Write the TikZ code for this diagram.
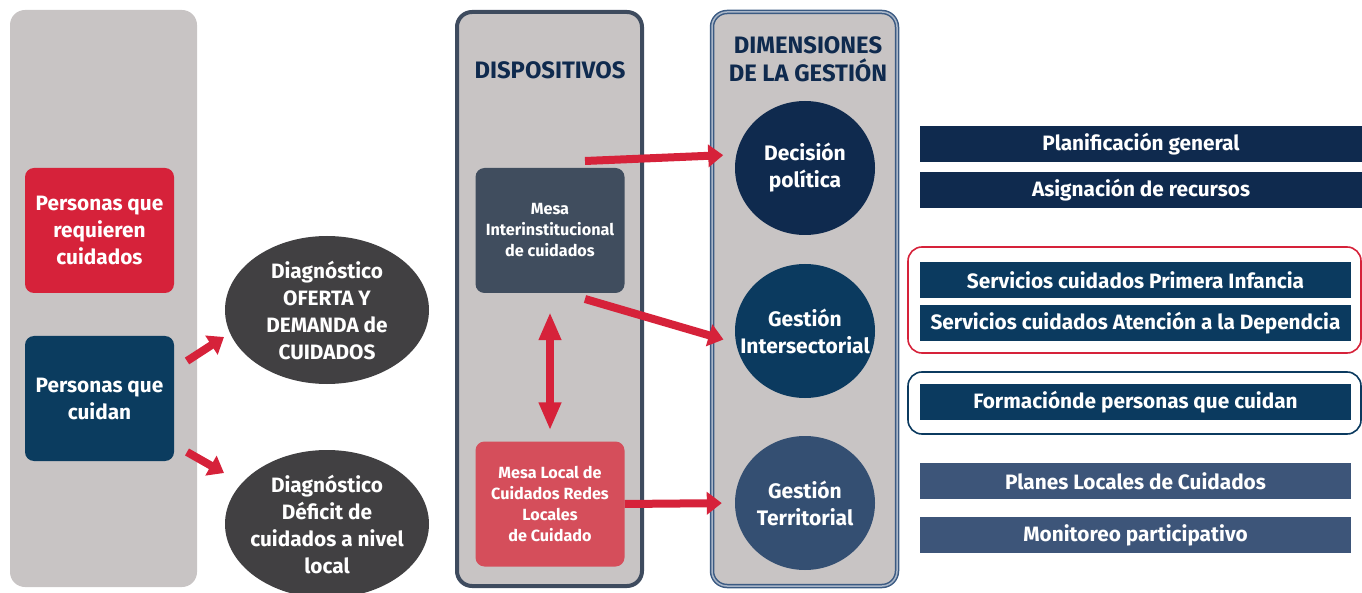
\documentclass[tikz,border=0pt]{standalone}
\usepackage{fontspec}
\setmainfont{Fira Sans}
\usetikzlibrary{arrows.meta,positioning,shapes.geometric}

\definecolor{panelgray}{HTML}{C8C4C4}
\definecolor{carered}{HTML}{D6223A}
\definecolor{carenavy}{HTML}{0B3C5F}
\definecolor{diaggray}{HTML}{414042}
\definecolor{midborder}{HTML}{3E4B5E}
\definecolor{mesagray}{HTML}{404D5E}
\definecolor{mesared}{HTML}{D54E5B}
\definecolor{dimborder}{HTML}{3B5A82}
\definecolor{dimline}{HTML}{A9B6C8}
\definecolor{darknavy}{HTML}{0F2A4E}
\definecolor{midnavy}{HTML}{0B3A5F}
\definecolor{slateblue}{HTML}{3D5579}
\definecolor{terrblue}{HTML}{344F72}

\begin{document}
\begin{tikzpicture}[x=1pt, y=-1pt,
    box/.style={rectangle, rounded corners=9pt, text=white, align=center, minimum width=149pt, minimum height=125pt, inner sep=2pt},
    mesa/.style={box, font=\bfseries\fontsize{16.2}{21}\selectfont},
    diag/.style={ellipse, fill=diaggray, text=white, align=center, minimum width=204pt, minimum height=148pt, inner sep=-6pt},
    dim/.style={ellipse, text=white, align=center, minimum width=140pt, minimum height=134pt, inner xsep=-22pt, inner ysep=0pt, font=\bfseries\fontsize{21}{27}\selectfont},
    bar/.style={rectangle, text=white, minimum height=36pt, inner sep=0pt},
    panel/.style={fill=panelgray, rounded corners=15pt},
    group/.style={line width=1.6pt, rounded corners=14pt},
    title/.style={text=darknavy, align=center, font=\bfseries\fontsize{23.8}{28}\selectfont},
    redarrow/.style={draw=carered, line width=8pt, -{Triangle[length=15pt,width=22pt]}}]
  \tikzstyle{every node}=[font=\bfseries\fontsize{20.8}{27}\selectfont]
  \useasboundingbox (0,0) rectangle (1362,593);

  \fill[panel] (10,10) rectangle (197,587);
  \filldraw[panel, draw=midborder, line width=4pt] (457,12) rectangle (642,586);
  \filldraw[panel, draw=dimborder, line width=1.5pt, double=dimline, double distance=1.5pt] (712,12) rectangle (897,586);

  \node[box, fill=carered] (req) at (99.5,230.5) {Personas que\\requieren\\cuidados};
  \node[box, fill=carenavy] (cuid) at (99.5,398.5) {Personas que\\cuidan};

  \node[diag] (oferta) at (327,310) {Diagnóstico\\OFERTA Y\\DEMANDA de\\CUIDADOS};
  \node[diag] (deficit) at (327,524) {Diagnóstico\\Déficit de\\cuidados a nivel\\local};

  \node[title] (disp) at (550,70) {DISPOSITIVOS};
  \node[mesa, fill=mesagray] (inter) at (550,230.5) {Mesa\\Interinstitucional\\de cuidados};
  \node[mesa, fill=mesared] (local) at (550,504) {Mesa Local de\\Cuidados Redes\\Locales\\de Cuidado};

  \node[title] (dimen) at (808,59) {DIMENSIONES\\DE LA GESTIÓN};
  \node[dim, fill=darknavy] (dec) at (805,168) {Decisión\\política};
  \node[dim, fill=midnavy] (inters) at (805,331) {Gestión\\Intersectorial};
  \node[dim, fill=terrblue] (terr) at (805,503) {Gestión\\Territorial};

  \node[bar, fill=darknavy, minimum width=442pt] (plan) at (1141,144.5) {Planificación general};
  \node[bar, fill=darknavy, minimum width=442pt] (asig) at (1141,190) {Asignación de recursos};
  \node[bar, fill=midnavy, minimum width=431pt] (infan) at (1135.5,280) {Servicios cuidados Primera Infancia};
  \node[bar, fill=midnavy, minimum width=431pt] (depen) at (1135.5,323) {Servicios cuidados Atención a la Dependcia};
  \node[bar, fill=midnavy, minimum width=431pt] (form) at (1135.5,402) {Formaciónde personas que cuidan};
  \node[bar, fill=slateblue, minimum width=431pt] (planes) at (1135.5,481) {Planes Locales de Cuidados};
  \node[bar, fill=slateblue, minimum width=431pt] (moni) at (1135.5,535) {Monitoreo participativo};

  \draw[group, draw=carered] (908,247) rectangle (1361,353);
  \draw[group, draw=midnavy] (908,372) rectangle (1361,434);

  \coordinate (c1) at (187,361);
  \coordinate (c2) at (224,337);
  \coordinate (c3) at (187,452);
  \coordinate (c4) at (224,473);
  \coordinate (m1) at (585,161);
  \coordinate (m2) at (585,299);

  \path
    (c1) edge[redarrow] (c2)
    (c3) edge[redarrow] (c4)
    (m1) edge[redarrow, shorten >=13pt] (dec.169)
    (m2) edge[redarrow, shorten >=13pt] (inters.190)
    (local.east) edge[redarrow, shorten >=13pt] (terr.west);
  \draw[carered, line width=8pt, {Triangle[length=28pt,width=21pt]}-{Triangle[length=28pt,width=21pt]}, shorten <=19pt, shorten >=11pt] (inter.south) -- (local.north);

\end{tikzpicture}
\end{document}
